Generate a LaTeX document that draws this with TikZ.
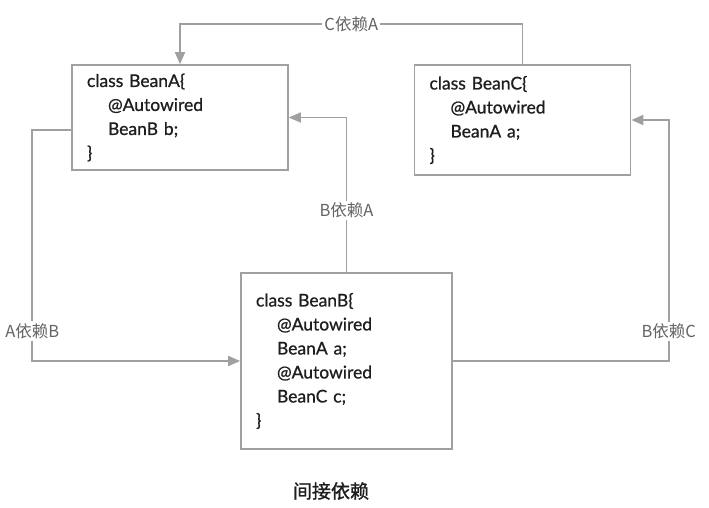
\documentclass[tikz,border=0pt]{standalone}
\usepackage{fontspec}
\setmainfont{Lato}
\newfontfamily\beanfont{Lato}[FakeBold=0.8]
\newfontfamily\cjkfont{Noto Sans CJK SC}
\newfontfamily\cjkheavy{Noto Sans CJK SC}[FakeBold=1.2]
\usetikzlibrary{arrows.meta,positioning}
\definecolor{linegray}{RGB}{160,160,160}
\definecolor{textdark}{RGB}{30,30,30}
\definecolor{labelgray}{RGB}{100,100,100}

\begin{document}
\begin{tikzpicture}[x=1pt,y=-1pt,
    bean/.style={draw=linegray,line width=1.6pt,minimum width=216pt,text width=186pt,
                 inner xsep=15pt,align=left,text=textdark,font=\beanfont\fontsize{17.5}{24}\selectfont},
    dep/.style={draw=linegray,line width=1.6pt,-{Triangle[length=12pt,width=10pt]}},
    deplbl/.style={fill=white,inner sep=2pt,text=labelgray,font=\cjkfont\fontsize{16.5}{18}\selectfont}]
  \useasboundingbox (0,0) rectangle (709,507);
  \node[bean,minimum height=105pt] (beanA) at (180,117.5)
       {class BeanA\{\\\hspace*{1.2em}@Autowired\\\hspace*{1.2em}BeanB b;\\\}};
  \node[bean,minimum height=110pt] (beanC) at (522.5,120)
       {class BeanC\{\\\hspace*{1.2em}@Autowired\\\hspace*{1.2em}BeanA a;\\\}};
  \node[bean,minimum width=211pt,text width=181pt,minimum height=176pt] (beanB) at (346.5,361)
       {class BeanB\{\\\hspace*{1.2em}@Autowired\\\hspace*{1.2em}BeanA a;\\
        \hspace*{1.2em}@Autowired\\\hspace*{1.2em}BeanC c;\\\}};
  % dependencies
  \draw[dep] (beanC.north) -- ++(0,-40) -| node[deplbl,pos=0.25] {C依赖A} (beanA.north);
  \draw[dep] (beanB.north) |- node[deplbl,pos=0.2] {B依赖A} (beanA.east);
  \draw[dep] ([yshift=-12.5pt]beanA.west) -- ++(-39,0) |- node[deplbl,pos=0.435] {A依赖B} (beanB.west);
  \draw[dep] (beanB.east) -- ++(216,0) |- node[deplbl,pos=0.062] {B依赖C} (beanC.east);
  \node[text=textdark,font=\cjkheavy\fontsize{19}{21}\selectfont] (caption) at (331,491) {间接依赖};
\end{tikzpicture}
\end{document}
